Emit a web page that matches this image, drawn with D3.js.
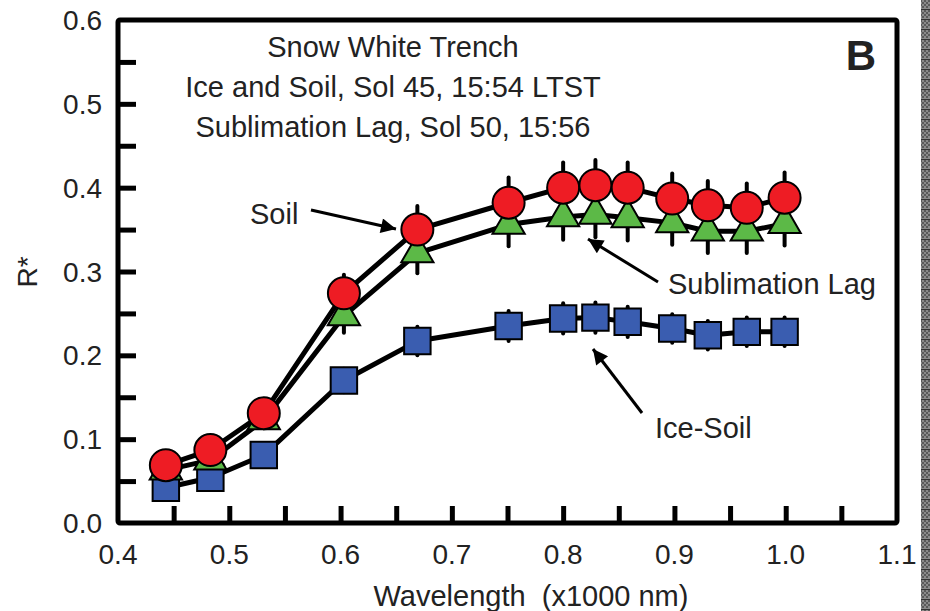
<!DOCTYPE html>
<html>
<head>
<meta charset="utf-8">
<script src="https://cdn.jsdelivr.net/npm/d3@7"></script>
<style>
  body { margin: 0; background: #fff; }
  svg { display: block; }
  text { font-family: "Liberation Sans", Arial, sans-serif; fill: #222; }
</style>
</head>
<body>
<div id="chart"></div>
<script>
// wavelength (x1000 nm)
var wavelengths = [0.443, 0.483, 0.531, 0.603, 0.669, 0.751, 0.800, 0.829, 0.858, 0.898, 0.930, 0.965, 0.999];
var soil        = [0.069, 0.087, 0.131, 0.274, 0.350, 0.382, 0.400, 0.403, 0.400, 0.387, 0.379, 0.376, 0.388];
var soilErr     = [0.010, 0.010, 0.012, 0.022, 0.028, 0.030, 0.030, 0.030, 0.030, 0.030, 0.029, 0.029, 0.030];
var sublimation = [0.063, 0.075, 0.123, 0.247, 0.322, 0.356, 0.365, 0.368, 0.364, 0.358, 0.348, 0.348, 0.357];
var sublimErr   = [0.010, 0.010, 0.010, 0.020, 0.024, 0.026, 0.027, 0.027, 0.027, 0.026, 0.026, 0.026, 0.026];
var iceSoil     = [0.042, 0.054, 0.081, 0.170, 0.217, 0.235, 0.244, 0.245, 0.240, 0.232, 0.224, 0.228, 0.228];
var iceSoilErr  = [0.008, 0.008, 0.010, 0.014, 0.017, 0.018, 0.018, 0.018, 0.018, 0.017, 0.017, 0.017, 0.017];

var xTickLabels = [0.4, 0.5, 0.6, 0.7, 0.8, 0.9, 1.0, 1.1];
var yTickLabels = [0.0, 0.1, 0.2, 0.3, 0.4, 0.5, 0.6];
var xMinorTicks = [0.45, 0.5, 0.55, 0.6, 0.65, 0.7, 0.75, 0.8, 0.85, 0.9, 0.95, 1.0, 1.05];
var yMinorTicks = [0.05, 0.1, 0.15, 0.2, 0.25, 0.3, 0.35, 0.4, 0.45, 0.5, 0.55];

var titleLines = ["Snow White Trench", "Ice and Soil, Sol 45, 15:54 LTST", "Sublimation Lag, Sol 50, 15:56"];

var W = 930, H = 611;
var plotL = 118, plotR = 897, plotT = 20, plotB = 523;

var x = d3.scaleLinear().domain([0.4, 1.1]).range([plotL, plotR]);
var y = d3.scaleLinear().domain([0, 0.6]).range([plotB, plotT]);

var svg = d3.select("#chart").append("svg")
  .attr("width", W)
  .attr("height", H);

// checkered strip on the right edge
var defs = svg.append("defs");
var pat = defs.append("pattern")
  .attr("id", "checker")
  .attr("width", 4).attr("height", 10)
  .attr("patternUnits", "userSpaceOnUse");
pat.append("rect").attr("width", 4).attr("height", 10).attr("fill", "#8a8a8a");
pat.append("rect").attr("width", 2).attr("height", 2).attr("fill", "#5a5a5a");
pat.append("rect").attr("x", 2).attr("y", 2).attr("width", 2).attr("height", 2).attr("fill", "#5a5a5a");
pat.append("rect").attr("x", 0).attr("y", 4).attr("width", 2).attr("height", 2).attr("fill", "#5a5a5a");
pat.append("rect").attr("x", 2).attr("y", 6).attr("width", 2).attr("height", 2).attr("fill", "#5a5a5a");
pat.append("rect").attr("x", 0).attr("y", 9).attr("width", 4).attr("height", 1).attr("fill", "#333");
svg.append("rect")
  .attr("x", 921).attr("y", 0)
  .attr("width", 9).attr("height", H)
  .attr("fill", "url(#checker)");

// inward ticks
var xAxis = d3.axisBottom(x).tickValues(xMinorTicks).tickSize(-17).tickFormat("");
var yAxis = d3.axisLeft(y).tickValues(yMinorTicks).tickSize(-18).tickFormat("");

var gx = svg.append("g").attr("transform", "translate(0," + plotB + ")").call(xAxis);
var gy = svg.append("g").attr("transform", "translate(" + plotL + ",0)").call(yAxis);
[gx, gy].forEach(function(g) {
  g.select(".domain").remove();
  g.selectAll(".tick line").attr("stroke", "#000").attr("stroke-width", 5);
});

// frame
svg.append("rect")
  .attr("x", plotL).attr("y", plotT)
  .attr("width", plotR - plotL).attr("height", plotB - plotT)
  .attr("rx", 2)
  .attr("fill", "none")
  .attr("stroke", "#000")
  .attr("stroke-width", 5);

// tick labels
svg.append("g").selectAll("text")
  .data(xTickLabels)
  .enter().append("text")
  .attr("x", function(d) { return x(d); })
  .attr("y", 564)
  .attr("text-anchor", "middle")
  .style("font-size", "28px")
  .text(function(d) { return d.toFixed(1); });

svg.append("g").selectAll("text")
  .data(yTickLabels)
  .enter().append("text")
  .attr("x", 102)
  .attr("y", function(d) { return y(d) + 10; })
  .attr("text-anchor", "end")
  .style("font-size", "28px")
  .text(function(d) { return d.toFixed(1); });

// axis titles
svg.append("text")
  .attr("x", 531).attr("y", 606)
  .attr("text-anchor", "middle")
  .style("font-size", "29px")
  .attr("xml:space", "preserve")
  .text("Wavelength  (x1000 nm)");

svg.append("text")
  .attr("transform", "translate(37,272) rotate(-90)")
  .attr("text-anchor", "middle")
  .style("font-size", "28px")
  .text("R*");

// series
var series = [
  { name: "Ice-Soil", values: iceSoil, err: iceSoilErr, color: "#3a5db0", shape: "square" },
  { name: "Sublimation Lag", values: sublimation, err: sublimErr, color: "#5cb947", shape: "triangle" },
  { name: "Soil", values: soil, err: soilErr, color: "#ee1c24", shape: "circle" }
];

var line = d3.line()
  .x(function(d) { return x(d.w); })
  .y(function(d) { return y(d.v); });

function pts(s) {
  return wavelengths.map(function(w, i) { return { w: w, v: s.values[i], e: s.err[i] }; });
}

svg.append("g").selectAll("path")
  .data(series)
  .enter().append("path")
  .attr("d", function(s) { return line(pts(s)); })
  .attr("fill", "none")
  .attr("stroke", "#000")
  .attr("stroke-width", 5)
  .attr("stroke-linejoin", "round");

// error bars
series.forEach(function(s) {
  svg.append("g").selectAll("line")
    .data(pts(s))
    .enter().append("line")
    .attr("x1", function(d) { return x(d.w); })
    .attr("x2", function(d) { return x(d.w); })
    .attr("y1", function(d) { return y(d.v + d.e); })
    .attr("y2", function(d) { return y(d.v - d.e); })
    .attr("stroke", "#000")
    .attr("stroke-width", 4)
    .attr("stroke-linecap", "round");
});

var symbols = {
  square: d3.symbol().type(d3.symbolSquare).size(700),
  triangle: d3.symbol().type(d3.symbolTriangle).size(450),
  circle: d3.symbol().type(d3.symbolCircle).size(Math.PI * 16 * 16)
};

series.forEach(function(s) {
  svg.append("g").selectAll("path")
    .data(pts(s))
    .enter().append("path")
    .attr("d", symbols[s.shape]())
    .attr("transform", function(d) { return "translate(" + x(d.w) + "," + y(d.v) + ")"; })
    .attr("fill", s.color)
    .attr("stroke", "#000")
    .attr("stroke-width", 2);
});

// title block
svg.append("g").selectAll("text")
  .data(titleLines)
  .enter().append("text")
  .attr("x", 393)
  .attr("y", function(d, i) { return 57 + i * 40; })
  .attr("text-anchor", "middle")
  .style("font-size", "29px")
  .text(function(d) { return d; });

svg.append("text")
  .attr("x", 861).attr("y", 70)
  .attr("text-anchor", "middle")
  .style("font-size", "42px")
  .style("font-weight", "700")
  .text("B");

// annotations with arrows
defs.append("marker")
  .attr("id", "head")
  .attr("viewBox", "0 0 10 10")
  .attr("refX", 10).attr("refY", 5)
  .attr("markerWidth", 7).attr("markerHeight", 5)
  .attr("markerUnits", "strokeWidth")
  .attr("orient", "auto")
  .append("path")
  .attr("d", "M0,0 L10,5 L0,10 Z")
  .attr("fill", "#000");

var notes = [
  { text: "Soil", tx: 250, ty: 224, x1: 311, y1: 210, x2: 396, y2: 229 },
  { text: "Sublimation Lag", tx: 668, ty: 294, x1: 658, y1: 282, x2: 588, y2: 239 },
  { text: "Ice-Soil", tx: 655, ty: 438, x1: 642, y1: 413, x2: 593, y2: 349 }
];

notes.forEach(function(n) {
  svg.append("text")
    .attr("x", n.tx).attr("y", n.ty)
    .style("font-size", "29px")
    .text(n.text);
  svg.append("line")
    .attr("x1", n.x1).attr("y1", n.y1)
    .attr("x2", n.x2).attr("y2", n.y2)
    .attr("stroke", "#000")
    .attr("stroke-width", 3)
    .attr("marker-end", "url(#head)");
});
</script>
</body>
</html>
